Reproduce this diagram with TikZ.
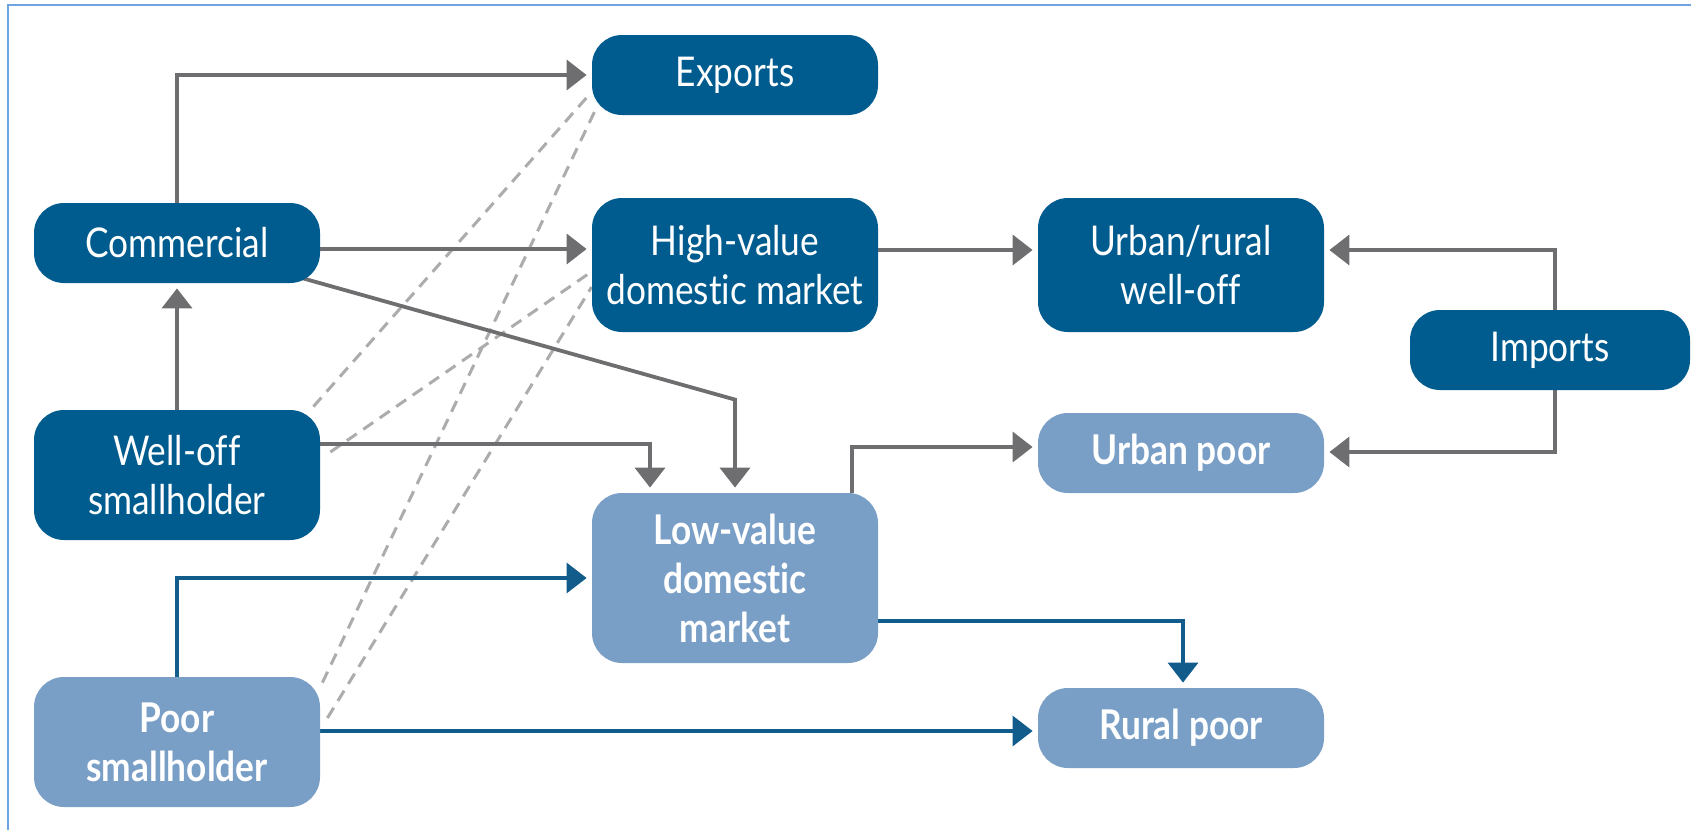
\documentclass[tikz,border=0pt]{standalone}
\usepackage{fontspec}
\setmainfont{Lato}[FakeStretch=0.86, Ligatures={NoCommon,NoRare}]
\usetikzlibrary{arrows.meta,backgrounds}

\definecolor{cDark}{RGB}{0,92,143}
\definecolor{cLight}{RGB}{122,159,199}
\definecolor{cFlowGray}{RGB}{110,110,113}
\definecolor{cFlowBlue}{RGB}{18,92,140}
\definecolor{cDash}{RGB}{172,172,172}
\definecolor{cFrame}{RGB}{110,165,225}

\tikzset{
  box/.style={rectangle, rounded corners=15pt, minimum width=143pt, align=center,
    text=white, inner sep=0pt, font=\fontsize{20.5}{24.5}\selectfont},
  darkbox/.style={box, fill=cDark},
  lightbox/.style={box, fill=cLight, font=\fontsize{20.5}{24.5}\selectfont\bfseries},
  grayflow/.style={draw=cFlowGray, line width=1.9pt,
    -{Triangle[width=15pt,length=10pt]}, shorten >=2.5pt},
  blueflow/.style={draw=cFlowBlue, line width=1.7pt,
    -{Triangle[width=15pt,length=10pt]}, shorten >=2.5pt},
  dashlink/.style={draw=cDash, line width=1.5pt, dash pattern=on 6pt off 4pt},
}

\begin{document}
\begin{tikzpicture}[x=0.5pt, y=-0.5pt]
  \useasboundingbox (0,0) rectangle (1691,830);

  % frame lines along the top and left edges
  \draw[cFrame, line width=1pt] (8,830) -- (8,5) -- (1691,5);

  % producers
  \node[darkbox, minimum height=40pt] (com) at (177,243) {Commercial};
  \node[darkbox, minimum height=65pt] (wo) at (177,475) {Well-off\\smallholder};
  \node[lightbox, minimum height=65pt] (poor) at (177,742) {Poor\\smallholder};

  % markets
  \node[darkbox, minimum height=40pt] (exp) at (735,75) {Exports};
  \node[darkbox, minimum height=67pt] (hv) at (735,265) {High-value\\domestic market};
  \node[lightbox, minimum height=85pt] (lv) at (735,578) {Low-value\\domestic\\market};

  % consumers
  \node[darkbox, minimum height=67pt] (ur) at (1181,265) {Urban/rural\\well-off};
  \node[lightbox, minimum height=40pt] (up) at (1181,453) {Urban poor};
  \node[lightbox, minimum height=40pt] (rp) at (1181,728) {Rural poor};
  \node[darkbox, minimum height=40pt, minimum width=140pt] (imp) at (1550,350) {Imports};

  \begin{scope}[on background layer]
    % dashed links from smallholders to the high-value outlets
    \draw[dashlink] ([xshift=-3.5pt,yshift=1.5pt]wo.north east) -- ([yshift=-8.5pt]exp.west);
    \draw[dashlink] ([xshift=5pt,yshift=11.5pt]wo.east) -- ([xshift=-1pt,yshift=-4pt]hv.west);
    \draw[dashlink] ([xshift=1pt,yshift=-3pt]poor.north east) -- ([xshift=2.5pt,yshift=4pt]exp.south west);
    \draw[dashlink] ([xshift=3.5pt,yshift=12pt]poor.east) -- ([yshift=-11pt]hv.west);

    % grey flows
    \draw[grayflow] (com.north) |- (exp.west);
    \draw[grayflow] ([yshift=-3pt]com.east) -- ([yshift=-3pt]com.east -| hv.west);
    \coordinate (bend) at ([yshift=46.5pt]lv.north);
    \draw[grayflow] (com.center) -- (bend) -- (lv.north);
    \draw[grayflow] (wo.north) -- (com.south);
    \draw[grayflow] ([yshift=15.5pt]wo.east) -| ([xshift=-42.5pt]lv.north);
    \draw[grayflow] ([yshift=7.5pt]hv.east) -- ([yshift=7.5pt]hv.east -| ur.west);
    \draw[grayflow] ([xshift=2.5pt]imp.north) |- ([yshift=7.5pt]ur.east);
    \draw[grayflow] ([xshift=2.5pt]imp.south) |- ([yshift=0.5pt]up.east);
    \draw[grayflow] ([xshift=58.5pt]lv.north) |- ([yshift=3pt]up.west);

    % blue flows
    \draw[blueflow] (poor.north) |- (lv.west);
    \draw[blueflow] ([yshift=-21.5pt]lv.east) -| ([xshift=1pt]rp.north);
    \draw[blueflow] ([yshift=5.5pt]poor.east) -- ([yshift=5.5pt]poor.east -| rp.west);
  \end{scope}
\end{tikzpicture}
\end{document}
